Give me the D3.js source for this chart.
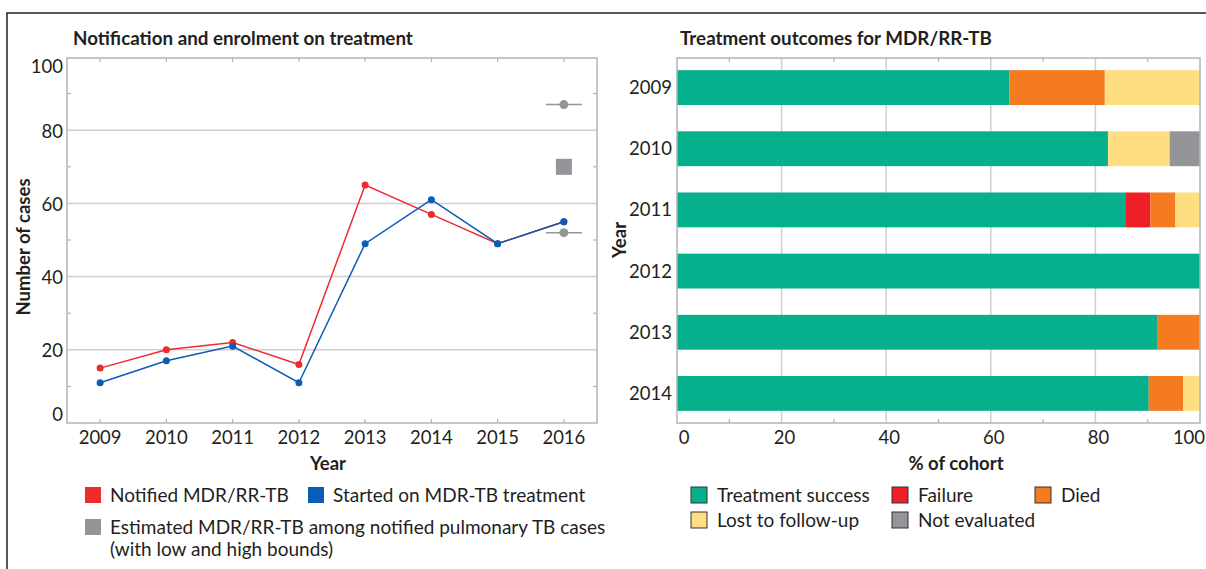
<!DOCTYPE html>
<html>
<head>
<meta charset="utf-8">
<script src="https://cdn.jsdelivr.net/npm/d3@7"></script>
<style>
  body { margin: 0; background: #fff; }
  svg text { font-family: Lato, "Open Sans", sans-serif; fill: #231f20; }
</style>
</head>
<body>
<div class="chart"></div>
<script>
// left panel data
let years = [2009, 2010, 2011, 2012, 2013, 2014, 2015, 2016];
let notified = [15, 20, 22, 16, 65, 57, 49, 55];
let started = [11, 17, 21, 11, 49, 61, 49, 55];
let estYear = 2016;
let estBest = 70;
let estLow = 52;
let estHigh = 87;

// right panel data (% of cohort)
let cohortYears = ["2009", "2010", "2011", "2012", "2013", "2014"];
let outcomes = ["Treatment success", "Failure", "Died", "Lost to follow-up", "Not evaluated"];
let success = [63.6, 82.4, 85.7, 100, 91.8, 90.2];
let failure = [0, 0, 4.8, 0, 0, 0];
let died = [18.2, 0, 4.8, 0, 8.2, 6.6];
let lost = [18.2, 11.8, 4.7, 0, 0, 3.2];
let notEval = [0, 5.8, 0, 0, 0, 0];

let outcomeColors = ["#06b08c", "#ee1f26", "#f47b20", "#fede80", "#939598"];
let red = "#ee2b2d";
let blue = "#0b5cb5";
let grey = "#939598";

let svgWidth = 1206, svgHeight = 569;
let svg = d3.select(".chart").append("svg")
    .attr("width", svgWidth)
    .attr("height", svgHeight);

// outer box
svg.append("path")
    .attr("d", `M7,${svgHeight + 5} V13 H${svgWidth + 5}`)
    .attr("fill", "none")
    .attr("stroke", "#231f20")
    .attr("stroke-width", 1.5);

let frameColor = "#b4b4b4";
let gridColor = "#cfcfcf";
let titleSize = 18.8, axisTitleSize = 18.5, legendSize = 19, tickSize = 18.5;

// ---------- left: notification ----------
let L = { left: 67, right: 597, top: 57, bottom: 423 };
let x = d3.scalePoint().domain(years).range([L.left, L.right]).padding(0.5);
let y = d3.scaleLinear().domain([0, 100]).range([L.bottom, L.top]);

svg.append("text")
    .attr("x", 73).attr("y", 45)
    .attr("font-size", titleSize).attr("font-weight", "bold")
    .text("Notification and enrolment on treatment");

svg.append("g").selectAll("line")
    .data([20, 40, 60, 80]).enter().append("line")
    .attr("x1", L.left).attr("x2", L.right)
    .attr("y1", d => y(d)).attr("y2", d => y(d))
    .attr("stroke", gridColor).attr("stroke-width", 1.5);

// minor ticks on both sides
let minorY = [10, 30, 50, 70, 90];
let tickG = svg.append("g").attr("stroke", frameColor).attr("stroke-width", 1.2);
minorY.forEach(v => {
    tickG.append("line").attr("x1", L.left).attr("x2", L.left + 4).attr("y1", y(v)).attr("y2", y(v));
    tickG.append("line").attr("x1", L.right).attr("x2", L.right - 4).attr("y1", y(v)).attr("y2", y(v));
});
years.forEach(v => {
    tickG.append("line").attr("x1", x(v)).attr("x2", x(v)).attr("y1", L.top + 1).attr("y2", L.top + 5);
    tickG.append("line").attr("x1", x(v)).attr("x2", x(v)).attr("y1", L.bottom).attr("y2", L.bottom - 4);
});

svg.append("rect")
    .attr("x", L.left).attr("y", L.top + 1)
    .attr("width", L.right - L.left).attr("height", L.bottom - L.top - 1)
    .attr("fill", "none").attr("stroke", frameColor).attr("stroke-width", 1.5);

// y labels
svg.append("g").selectAll("text")
    .data([0, 20, 40, 60, 80, 100]).enter().append("text")
    .attr("x", 63)
    .attr("y", d => y(d) + (d === 100 ? 10 : d === 0 ? -8 : 1))
    .attr("dy", "0.35em")
    .attr("text-anchor", "end")
    .attr("font-size", tickSize)
    .text(d => d);

svg.append("g").selectAll("text")
    .data(years).enter().append("text")
    .attr("x", d => x(d)).attr("y", 444)
    .attr("text-anchor", "middle").attr("font-size", tickSize)
    .text(d => d);

svg.append("text")
    .attr("x", 328).attr("y", 470)
    .attr("text-anchor", "middle").attr("font-size", axisTitleSize).attr("font-weight", "bold")
    .text("Year");

svg.append("text")
    .attr("transform", `translate(30, 247) rotate(-90)`)
    .attr("text-anchor", "middle").attr("font-size", axisTitleSize).attr("font-weight", "bold")
    .text("Number of cases");

// estimate with bounds
[estLow, estHigh].forEach(v => {
    svg.append("line")
        .attr("x1", x(estYear) - 18).attr("x2", x(estYear) + 18)
        .attr("y1", y(v)).attr("y2", y(v))
        .attr("stroke", grey).attr("stroke-width", 1.5);
    svg.append("circle")
        .attr("cx", x(estYear)).attr("cy", y(v)).attr("r", 4.5)
        .attr("fill", grey);
});
svg.append("rect")
    .attr("x", x(estYear) - 8).attr("y", y(estBest) - 8)
    .attr("width", 16).attr("height", 16)
    .attr("fill", grey);

let line = d3.line().x((d, i) => x(years[i])).y(d => y(d));
[[notified, red], [started, blue]].forEach(([vals, col]) => {
    svg.append("path")
        .attr("d", line(vals))
        .attr("fill", "none").attr("stroke", col).attr("stroke-width", 1.5);
    svg.append("g").selectAll("circle")
        .data(vals).enter().append("circle")
        .attr("cx", (d, i) => x(years[i])).attr("cy", d => y(d))
        .attr("r", 3.5).attr("fill", col);
});

// left legend
let leftLegend = [
    { x: 85, y: 487, color: red, lines: ["Notified MDR/RR-TB"] },
    { x: 308, y: 487, color: blue, lines: ["Started on MDR-TB treatment"] },
    { x: 85, y: 519, color: grey, lines: ["Estimated MDR/RR-TB among notified pulmonary TB cases", "(with low and high bounds)"] }
];
leftLegend.forEach(item => {
    svg.append("rect").attr("x", item.x).attr("y", item.y)
        .attr("width", 16).attr("height", 16).attr("fill", item.color);
    item.lines.forEach((t, i) => {
        svg.append("text")
            .attr("x", item.x + 25).attr("y", item.y + 8 + i * 22)
            .attr("dy", "0.35em").attr("font-size", legendSize)
            .text(t);
    });
});

// ---------- right: outcomes ----------
let R = { left: 677, right: 1200, top: 57, bottom: 423 };
let xb = d3.scaleLinear().domain([0, 100]).range([R.left, R.right]);
let yb = d3.scaleBand().domain(cohortYears).range([57, 424]).paddingInner(0.43).paddingOuter(0.215);

svg.append("text")
    .attr("x", 680).attr("y", 45)
    .attr("font-size", titleSize).attr("font-weight", "bold")
    .text("Treatment outcomes for MDR/RR-TB");

svg.append("g").selectAll("line")
    .data([20, 40, 60, 80]).enter().append("line")
    .attr("x1", d => xb(d)).attr("x2", d => xb(d))
    .attr("y1", R.top).attr("y2", R.bottom)
    .attr("stroke", gridColor).attr("stroke-width", 1.5);

let tickG2 = svg.append("g").attr("stroke", frameColor).attr("stroke-width", 1.2);
minorY.forEach(v => {
    tickG2.append("line").attr("x1", xb(v)).attr("x2", xb(v)).attr("y1", R.top + 1).attr("y2", R.top + 5);
    tickG2.append("line").attr("x1", xb(v)).attr("x2", xb(v)).attr("y1", R.bottom).attr("y2", R.bottom - 4);
});

let series = [success, failure, died, lost, notEval];
let stackData = cohortYears.map((yr, i) => {
    let row = { year: yr };
    outcomes.forEach((o, k) => row[o] = series[k][i]);
    return row;
});
let stacked = d3.stack().keys(outcomes)(stackData);
svg.append("g").selectAll("g")
    .data(stacked).enter().append("g")
    .attr("fill", (d, k) => outcomeColors[k])
    .selectAll("rect")
    .data(d => d).enter().append("rect")
    .attr("x", d => xb(d[0]))
    .attr("width", d => Math.max(0, xb(d[1]) - xb(d[0])))
    .attr("y", d => yb(d.data.year))
    .attr("height", yb.bandwidth());

svg.append("rect")
    .attr("x", R.left).attr("y", R.top + 1)
    .attr("width", R.right - R.left).attr("height", R.bottom - R.top - 1)
    .attr("fill", "none").attr("stroke", frameColor).attr("stroke-width", 1.5);

svg.append("g").selectAll("text")
    .data(cohortYears).enter().append("text")
    .attr("x", 672).attr("y", d => yb(d) + yb.bandwidth() / 2)
    .attr("dy", "0.35em").attr("text-anchor", "end").attr("font-size", tickSize)
    .text(d => d);

svg.append("g").selectAll("text")
    .data([0, 20, 40, 60, 80, 100]).enter().append("text")
    .attr("x", d => xb(d) + (d === 0 ? 7 : d === 100 ? -11 : 3))
    .attr("y", 444)
    .attr("text-anchor", "middle").attr("font-size", tickSize)
    .text(d => d);

svg.append("text")
    .attr("x", 956).attr("y", 470)
    .attr("text-anchor", "middle").attr("font-size", axisTitleSize).attr("font-weight", "bold")
    .text("% of cohort");

svg.append("text")
    .attr("transform", `translate(626, 240) rotate(-90)`)
    .attr("text-anchor", "middle").attr("font-size", axisTitleSize).attr("font-weight", "bold")
    .text("Year");

// right legend
let legendPos = [[691, 487], [892, 487], [1035, 487], [691, 512], [892, 512]];
outcomes.forEach((o, k) => {
    let [lx, ly] = legendPos[k];
    svg.append("rect").attr("x", lx).attr("y", ly)
        .attr("width", 16).attr("height", 16)
        .attr("fill", outcomeColors[k]).attr("stroke", "#333").attr("stroke-width", 1);
    svg.append("text")
        .attr("x", lx + 26).attr("y", ly + 8)
        .attr("dy", "0.35em").attr("font-size", legendSize)
        .text(o);
});
</script>
</body>
</html>
